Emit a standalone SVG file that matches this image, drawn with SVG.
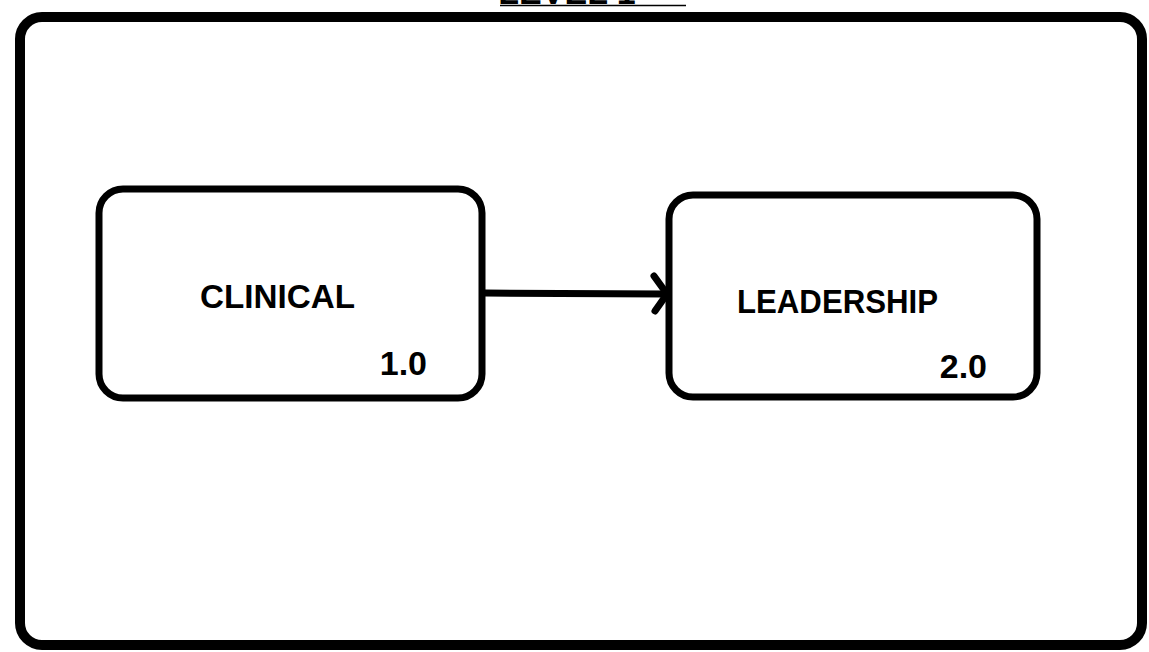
<svg xmlns="http://www.w3.org/2000/svg" width="1149" height="652" viewBox="0 0 1149 652">
  <style>
    .frame { fill: none; stroke: #000; stroke-width: 10; }
    .box { fill: #fff; stroke: #000; stroke-width: 7; }
    .label { font-family: "Liberation Sans", Arial, sans-serif; font-weight: bold; font-size: 34px; fill: #000; }
    .num { font-family: "Liberation Sans", Arial, sans-serif; font-weight: bold; font-size: 34px; fill: #000; text-anchor: end; }
    .edge { fill: none; stroke: #000; stroke-width: 7; stroke-linecap: round; stroke-linejoin: round; }
  </style>
  <rect width="1149" height="652" fill="#fff"/>

  <!-- page title, running off the top edge -->
  <g id="title">
    <text x="567" y="4" class="label" text-anchor="middle" font-size="34">LEVEL 1</text>
    <line x1="500" y1="5.5" x2="686" y2="5.5" stroke="#000" stroke-width="1.5"/>
  </g>

  <!-- outer frame -->
  <rect id="frame" class="frame" x="20" y="17" width="1122" height="628" rx="22"/>

  <g id="node-clinical">
    <rect class="box" x="99" y="189" width="383" height="209" rx="24"/>
    <text class="label" x="200" y="308" textLength="155" lengthAdjust="spacingAndGlyphs">CLINICAL</text>
    <text class="num" x="427" y="375">1.0</text>
  </g>

  <g id="node-leadership">
    <rect class="box" x="669" y="195" width="368" height="202" rx="24"/>
    <text class="label" x="737" y="313" textLength="201" lengthAdjust="spacingAndGlyphs">LEADERSHIP</text>
    <text class="num" x="987" y="378">2.0</text>
  </g>

  <g id="connectors">
    <line class="edge" x1="485" y1="293" x2="666" y2="294"/>
    <polyline class="edge" points="654,276 667,294 655,311"/>
  </g>
</svg>
